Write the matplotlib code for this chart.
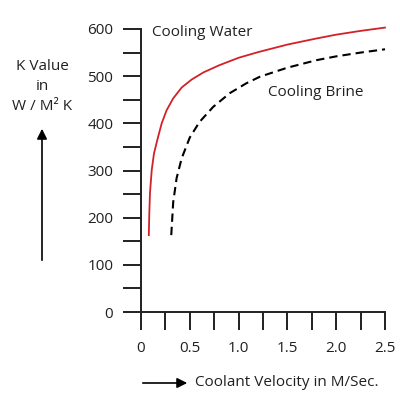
import numpy as np
import matplotlib
matplotlib.use("Agg")
import matplotlib.pyplot as plt
from matplotlib.patches import FancyArrowPatch
from matplotlib.ticker import MultipleLocator, FixedLocator, FixedFormatter

# values
water_v = [0.08, 0.085, 0.092, 0.11, 0.133, 0.171, 0.212, 0.263, 0.33, 0.417,
           0.52, 0.64, 0.80, 1.0, 1.2, 1.5, 1.8, 2.0, 2.25, 2.5]
water_k = [163, 209, 252, 301, 336, 368, 400, 428, 453, 476,
           493, 508, 523, 539, 551, 567, 580, 588, 596, 603]

brine_v = [0.31, 0.33, 0.365, 0.417, 0.50, 0.60, 0.74, 0.91, 1.08, 1.22,
           1.5, 1.8, 2.0, 2.25, 2.5]
brine_k = [163, 233, 284, 326, 370, 403, 435, 464, 485, 499,
           518, 534, 542, 550, 557]

xticks = [0, 0.5, 1.0, 1.5, 2.0, 2.5]
xticklabels = ["0", "0.5", "1.0", "1.5", "2.0", "2.5"]
yticks = [0, 100, 200, 300, 400, 500, 600]

txt = "#231f20"
plt.rcParams['font.family'] = ['Open Sans', 'DejaVu Sans']
plt.rcParams['font.size'] = 11

fig = plt.figure(figsize=(4, 4), dpi=100)
ax = fig.add_axes([0.3525, 0.22, 0.61, 0.7075])

ax.plot(water_v, water_k, color="#d42027", lw=1.3, clip_on=False)
ax.plot(brine_v, brine_k, color="black", lw=1.5, dashes=(4, 2.4), clip_on=False)

ax.set_xlim(0, 2.5)
ax.set_ylim(0, 600)
for s in ["top", "right"]:
    ax.spines[s].set_visible(False)
for s in ["left", "bottom"]:
    ax.spines[s].set_linewidth(1.4)
    ax.spines[s].set_color(txt)

ax.xaxis.set_major_locator(FixedLocator(xticks))
ax.xaxis.set_major_formatter(FixedFormatter(xticklabels))
ax.xaxis.set_minor_locator(MultipleLocator(0.25))
ax.yaxis.set_major_locator(FixedLocator(yticks))
ax.yaxis.set_minor_locator(MultipleLocator(50))
ax.tick_params(which="both", direction="out", length=13, width=1.4,
               color=txt, labelcolor=txt, labelsize=11)
ax.tick_params(axis="y", pad=7)
ax.tick_params(axis="x", pad=8)

fig.text(152/400, 1 - 32/400, "Cooling Water", ha="left", va="center",
         color=txt, fontsize=11)
fig.text(268/400, 1 - 92/400, "Cooling Brine", ha="left", va="center",
         color=txt, fontsize=11)

# y label with arrow
fig.text(42/400, 1 - 67/400, "K Value", ha="center", va="center", color=txt, fontsize=11)
fig.text(42/400, 1 - 87/400, "in", ha="center", va="center", color=txt, fontsize=11)
fig.text(42/400, 1 - 107/400, "W / M\u00b2 K", ha="center", va="center", color=txt, fontsize=11)
fig.add_artist(FancyArrowPatch(
    (42/400, 1 - 263/400), (42/400, 1 - 126/400), transform=fig.transFigure,
    arrowstyle="-|>,head_length=6,head_width=3", color="black", lw=1.2))

# x label with arrow
fig.add_artist(FancyArrowPatch(
    (140/400, 1 - 383/400), (190/400, 1 - 383/400), transform=fig.transFigure,
    arrowstyle="-|>,head_length=6,head_width=3", color="black", lw=1.2))
fig.text(195/400, 1 - 383/400, "Coolant Velocity in M/Sec.", ha="left", va="center",
         color=txt, fontsize=11)

fig.savefig("out.png", dpi=100)
